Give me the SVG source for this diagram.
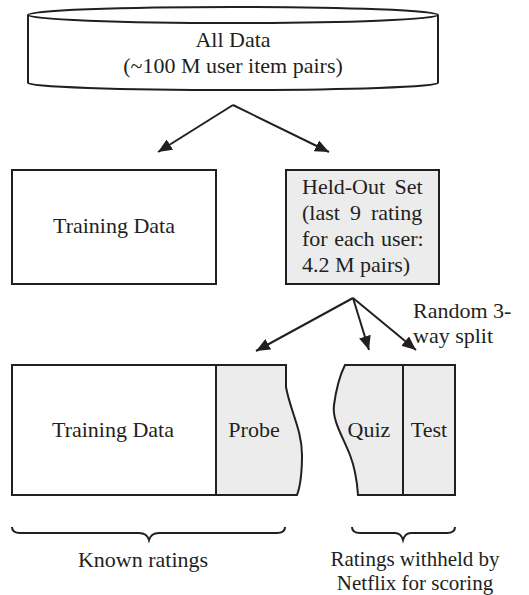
<svg xmlns="http://www.w3.org/2000/svg" width="529" height="595" viewBox="0 0 529 595">
<defs>
<marker id="ah" viewBox="0 0 14 12" refX="14" refY="6" markerWidth="14" markerHeight="12" markerUnits="userSpaceOnUse" orient="auto">
<path d="M0,0 L14,6 L0,12 Z" fill="#231f20"/>
</marker>
<style>
text{font-family:"Liberation Serif","Times New Roman",serif;font-size:22px;fill:#231f20}
.c{text-anchor:middle}
.s{font-size:21px}
.box{fill:#fff;stroke:#231f20;stroke-width:2}
.gray{fill:#ececec;stroke:#231f20;stroke-width:2}
.ln{fill:none;stroke:#231f20;stroke-width:2}
</style>
</defs>
<rect width="529" height="595" fill="#fff"/>
<g id="all-data">
<path class="box" d="M28,15 V83 A205,7 0 0 0 438,83 V15"/>
<ellipse class="box" cx="233" cy="15" rx="205" ry="8"/>
<text class="c" x="233" y="47">All Data</text>
<text class="c" x="233" y="73">(~100 M user item pairs)</text>
</g>
<g id="training-top">
<rect class="box" x="12" y="170" width="204" height="114"/>
<text class="c" x="114" y="233">Training Data</text>
</g>
<g id="held-out">
<rect class="gray" x="286" y="170" width="153" height="114"/>
<text x="302" y="194" word-spacing="4">Held-Out Set</text>
<text x="302" y="220" word-spacing="4.5">(last 9 rating</text>
<text x="302" y="246" word-spacing="1">for each user:</text>
<text x="302" y="272">4.2 M pairs)</text>
</g>
<g id="training-bottom">
<path class="box" d="M216,365 H12 V495 H216"/>
<text class="c" x="113" y="437">Training Data</text>
</g>
<g id="probe">
<path class="gray" d="M216,365 H286 V387 C290,410 302,430 302,455 C302,475 300,487 297,495 H216 Z"/>
<text class="c" x="254" y="437">Probe</text>
</g>
<g id="quiz">
<path class="gray" d="M345,365 H403 V495 H358 C357,480 355,468 350,455 C342,435 332,420 334,405 C336,390 340,375 345,365 Z"/>
<text class="c" x="369" y="437">Quiz</text>
</g>
<g id="test">
<rect class="gray" x="403" y="365" width="52" height="130"/>
<text class="c" x="429" y="437">Test</text>
</g>
<g id="connectors">
<path class="ln" d="M233,105 L158,152" marker-end="url(#ah)"/>
<path class="ln" d="M233,105 L329,152" marker-end="url(#ah)"/>
<path class="ln" d="M353,298 L256,351" marker-end="url(#ah)"/>
<path class="ln" d="M353,298 L369,350" marker-end="url(#ah)"/>
<path class="ln" d="M353,298 L416,350" marker-end="url(#ah)"/>
</g>
<g id="split-label">
<text x="413" y="318">Random 3-</text>
<text x="413" y="343">way split</text>
</g>
<g id="known">
<path class="ln" stroke-width="1.5" d="M12,527 Q12,533 20,533 H139 Q147,533 149,540 Q151,533 159,533 H277 Q285,533 285,527"/>
<text class="c" x="143" y="567">Known ratings</text>
</g>
<g id="withheld">
<path class="ln" stroke-width="1.5" d="M352,527 Q352,533 360,533 H395 Q401,533 403,540 Q405,533 411,533 H447 Q455,533 455,527"/>
<text class="c s" x="415" y="566">Ratings withheld by</text>
<text class="c s" x="415" y="590">Netflix for scoring</text>
</g>
</svg>
